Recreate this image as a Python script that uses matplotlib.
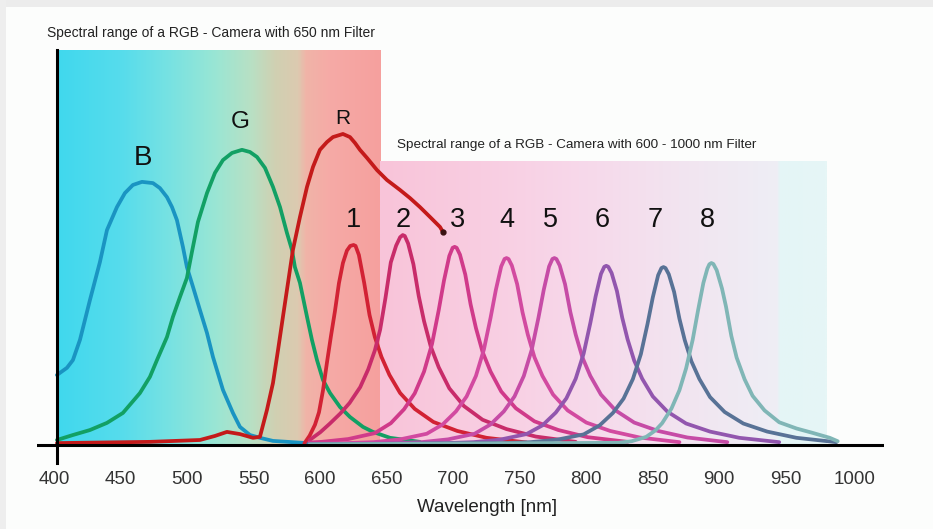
import numpy as np
import matplotlib
matplotlib.use("Agg")
import matplotlib.pyplot as plt
from matplotlib.colors import LinearSegmentedColormap
from matplotlib.patches import Rectangle
from matplotlib.transforms import ScaledTranslation

# --- data (wavelength nm, relative response %) ---
wl_b = [400.0, 407.5, 412.0, 417.3, 424.8, 432.3, 437.6, 445.1, 451.1, 457.1, 463.9, 472.2, 477.4,
        482.7, 486.5, 490.2, 494.7, 497.7, 502.3, 507.5, 512.8, 517.3, 524.8, 532.3, 537.6, 545.1,
        552.6, 562.4, 588.0]
resp_b = [22.5, 24.8, 27.3, 33.8, 46.6, 58.8, 69.1, 76.5, 81.0, 83.6, 84.6, 84.2, 82.6,
          79.7, 76.5, 72.3, 63.7, 57.2, 50.8, 43.4, 36.0, 28.3, 17.7, 10.3, 5.8, 3.2,
          2.3, 1.3, 0.6]

wl_g = [400.0, 412.0, 424.8, 437.6, 449.6, 462.4, 469.9, 475.2, 482.7, 487.2, 492.5, 497.7, 501.5,
        506.0, 512.8, 518.8, 524.8, 531.6, 539.1, 545.1, 550.4, 556.4, 562.4, 567.7, 572.9, 576.7,
        578.9, 582.7, 588.0, 591.7, 595.5, 600.0, 605.3, 612.8, 620.3, 630.1, 637.6, 650.4, 672.9]
resp_g = [1.6, 3.2, 4.8, 7.1, 10.3, 16.7, 21.9, 27.3, 34.7, 41.2, 47.6, 53.7, 62.1,
          71.7, 81.0, 87.5, 91.6, 93.9, 94.9, 94.2, 92.6, 89.1, 83.0, 76.5, 68.2, 62.7,
          57.2, 52.1, 41.2, 33.8, 27.3, 20.9, 16.7, 12.2, 9.0, 5.8, 4.2, 2.3, 1.0]

wl_r = [400.0, 470.0, 507.5, 518.8, 527.8, 537.6, 547.4, 552.6, 557.9, 562.4, 566.2, 569.9, 573.7,
        577.4, 582.7, 588.0, 592.5, 597.7, 603.0, 607.5, 615.0, 620.3, 624.1, 627.8, 633.1, 640.6,
        648.1, 657.9, 665.4, 672.9, 680.5, 688.0, 690.2]
resp_r = [0.6, 1.0, 1.6, 2.9, 4.2, 3.5, 2.3, 2.6, 11.3, 19.9, 30.5, 41.2, 52.1,
          62.7, 73.3, 83.0, 89.4, 94.9, 97.4, 99.0, 100.0, 99.0, 97.1, 94.9, 92.3, 88.4,
          85.2, 82.0, 79.4, 76.5, 73.3, 70.1, 68.5]

wl_1 = [586, 590, 594, 597, 600, 603, 606, 609, 612, 615, 618, 620.5, 623, 624.5, 627, 631, 635,
        639, 644, 650, 658, 669, 683, 701, 723, 753]
resp_1 = [0.5, 3.0, 6.5, 10.5, 17.5, 26.5, 35.0, 43.0, 52.0, 58.5, 62.5, 64.0, 64.3, 64.0, 61.1,
          52.1, 41.8, 34.7, 28.3, 22.5, 16.7, 11.6, 7.4, 4.5, 2.3, 0.8]

wl_2 = [590, 598, 605, 613, 620, 628, 634, 639, 643, 647, 651, 655, 658, 660, 661.5, 664, 668,
        672, 676, 681, 687, 695, 706, 720, 738, 760, 790]
resp_2 = [1.6, 4.1, 6.8, 10.1, 13.5, 18.6, 24.3, 30.4, 37.1, 47.3, 58.7, 64.1, 66.8, 67.5, 67.2,
          64.8, 58.1, 47.9, 39.8, 31.7, 25.0, 18.2, 12.5, 8.1, 5.1, 2.7, 1.0]

wl_3 = [590, 599, 619, 639, 651, 661, 669, 676, 682, 687, 691, 695, 697.5, 699, 700.5, 703, 707,
        711, 715, 720, 726, 734, 745, 759, 777, 799, 829]
resp_3 = [0.8, 1.0, 1.9, 3.8, 7.0, 11.5, 16.6, 23.6, 32.5, 43.3, 52.9, 60.8, 63.4, 63.7, 63.4,
          61.2, 54.8, 45.2, 37.6, 29.9, 23.6, 17.2, 11.8, 7.6, 4.8, 2.5, 1.0]

wl_4 = [590, 618, 638, 658, 678, 690, 700, 708, 715, 721, 726, 730, 734, 736.5, 738, 739.5, 742,
        746, 750, 754, 759, 765, 773, 784, 798, 816, 838, 868]
resp_4 = [0.3, 0.6, 0.9, 1.8, 3.6, 6.6, 10.8, 15.6, 22.2, 30.7, 40.9, 49.9, 57.4, 59.8, 60.1,
          59.8, 57.7, 51.7, 42.7, 35.5, 28.2, 22.2, 16.2, 11.1, 7.2, 4.5, 2.4, 0.9]

wl_5 = [590, 654, 674, 694, 714, 726, 736, 744, 751, 757, 762, 766, 770, 772.5, 774, 775.5, 778,
        782, 786, 790, 795, 801, 809, 820, 834, 852, 874, 904]
resp_5 = [0.2, 0.6, 0.9, 1.8, 3.6, 6.6, 10.8, 15.6, 22.2, 30.7, 40.9, 49.9, 57.4, 59.8, 60.1,
          59.8, 57.7, 51.7, 42.7, 35.5, 28.2, 22.2, 16.2, 11.1, 7.2, 4.5, 2.4, 0.9]

wl_6 = [590, 693, 713, 733, 753, 765, 775, 783, 790, 796, 801, 805, 809, 811.5, 813, 814.5, 817,
        821, 825, 829, 834, 840, 848, 859, 873, 891, 913, 943]
resp_6 = [0.2, 0.6, 0.9, 1.7, 3.5, 6.3, 10.4, 15.0, 21.3, 29.4, 39.2, 47.8, 55.0, 57.3, 57.6,
          57.3, 55.3, 49.5, 40.9, 34.0, 27.1, 21.3, 15.6, 10.7, 6.9, 4.3, 2.3, 0.9]

wl_7 = [590, 736, 756, 776, 796, 808, 818, 826, 833, 839, 844, 848, 852, 854.5, 856, 857.5, 860,
        864, 868, 872, 877, 883, 891, 902, 916, 934, 956, 986]
resp_7 = [0.2, 0.6, 0.9, 1.7, 3.4, 6.3, 10.3, 14.9, 21.2, 29.2, 38.9, 47.5, 54.6, 56.9, 57.2,
          56.9, 54.9, 49.2, 40.6, 33.7, 26.9, 21.2, 15.4, 10.6, 6.9, 4.3, 2.3, 0.9]

wl_8 = [590, 822, 832, 843, 850, 855, 862, 868, 873, 878, 882, 886, 889, 890.5, 892, 893.5, 896,
        900, 903, 907, 911, 917, 923, 932, 943, 956, 968, 981, 987]
resp_8 = [0.2, 0.7, 1.2, 2.6, 4.7, 7.0, 11.7, 17.6, 24.6, 33.9, 43.3, 52.1, 56.7, 58.1, 58.5,
          58.2, 56.2, 50.3, 44.5, 35.1, 28.1, 21.1, 15.8, 11.1, 7.3, 5.3, 3.9, 2.3, 1.2]

tick_vals = [400, 450, 500, 550, 600, 650, 700, 750, 800, 850, 900, 950, 1000]
rgb_names = ["B", "G", "R"]
band_names = ["1", "2", "3", "4", "5", "6", "7", "8"]

# --- styles / layout ---
W, H = 933, 529
X0, X1 = 385.0, 1021.8
Y0, Y1 = -5.8, 127.0

curves = [
    (wl_b, resp_b, "#1a94c2"),
    (wl_g, resp_g, "#12a064"),
    (wl_1, resp_1, "#d22234"),
    (wl_2, resp_2, "#c82c6a"),
    (wl_3, resp_3, "#d03a8a"),
    (wl_4, resp_4, "#d24aa0"),
    (wl_5, resp_5, "#c64ca6"),
    (wl_6, resp_6, "#9256ae"),
    (wl_7, resp_7, "#587296"),
    (wl_8, resp_8, "#80b6b6"),
    (wl_r, resp_r, "#c41a1a"),
]

left_stops = [(0.0, "#40d8ee"), (0.195, "#56dcec"), (0.35, "#78e2e2"), (0.49, "#9ae6d4"),
              (0.6, "#b8e0c4"), (0.675, "#d0d0b2"), (0.745, "#dccab0"), (0.77, "#f0b4a8"),
              (0.845, "#f6aaa6"), (1.0, "#f5a09e")]
right_stops = [(0.0, "#f8c4d9"), (0.224, "#f9cde1"), (0.447, "#f7d8ea"), (0.67, "#f2e4f0"),
               (0.892, "#eeeef5"), (0.896, "#e4f5f6"), (1.0, "#e6f6f6")]

plt.rcParams['font.family'] = ['Liberation Sans', 'DejaVu Sans']

fig = plt.figure(figsize=(W / 100, H / 100), dpi=100, facecolor="#fcfdfc")
fig.patches.append(Rectangle((0, 1 - 7 / H), 1, 7 / H, transform=fig.transFigure,
                             facecolor="#ececec", edgecolor="none", zorder=0))
fig.patches.append(Rectangle((0, 0), 6 / W, 1, transform=fig.transFigure,
                             facecolor="#eeeeee", edgecolor="none", zorder=0))

ax = fig.add_axes([37 / W, (H - 463) / H, (884 - 37) / W, (463 - 50) / H])
ax.set_xlim(X0, X1)
ax.set_ylim(Y0, Y1)
ax.patch.set_alpha(0)
for s in ax.spines.values():
    s.set_visible(False)
ax.set_yticks([])

grad = np.linspace(0, 1, 600).reshape(1, -1)
cm_left = LinearSegmentedColormap.from_list("left", left_stops)
cm_right = LinearSegmentedColormap.from_list("right", right_stops)
ax.imshow(grad, cmap=cm_left, extent=[400, 643, 0, 127], aspect="auto", zorder=0)
ax.imshow(grad, cmap=cm_right, extent=[643, 979, 0, 91], aspect="auto", zorder=0)

for wl, resp, col in curves:
    ax.plot(wl, resp, color=col, lw=2.7, solid_capstyle="round", solid_joinstyle="round", zorder=2)
# small dark dot where the R curve stops
ax.plot(wl_r[-1], resp_r[-1], "o", ms=3.5, color="#3a1212", zorder=2)

ax.axhline(0, color="black", lw=2.2, zorder=3)
ax.plot([400, 400], [Y0, Y1], color="black", lw=2.2, zorder=3, clip_on=False)

ax.set_xticks(tick_vals)
ax.set_xticklabels([str(v) for v in tick_vals], fontsize=13.5, color="#333333")
ax.tick_params(axis="x", length=0, pad=5.7)
# labels in the source sit a few pixels left of their ticks (except the last)
shift = ScaledTranslation(-3 / 100, 0, fig.dpi_scale_trans)
for lab in ax.get_xticklabels()[:-1]:
    lab.set_transform(lab.get_transform() + shift)

# curve labels
rgb_pos = [(464.7, 92.3, 20), (537.6, 103.9, 17.5), (615.0, 105.1, 15)]
for name, (x, y, fs) in zip(rgb_names, rgb_pos):
    ax.text(x, y, name, fontsize=fs, ha="center", va="center", color="#111111", zorder=4)
band_x = [622.6, 660.2, 700.8, 738.3, 770.7, 809.8, 849.6, 888.7]
for name, x in zip(band_names, band_x):
    ax.text(x, 72.3, name, fontsize=19.5, ha="center", va="center", color="#111111", zorder=4)

fig.text(487 / W, 1 - 508 / H, "Wavelength [nm]", fontsize=13.5, ha="center", va="center",
         color="#222222")
fig.text(47 / W, 1 - 33 / H, "Spectral range of a RGB - Camera with 650 nm Filter",
         fontsize=10, ha="left", va="center", color="#222222")
fig.text(397 / W, 1 - 145 / H, "Spectral range of a RGB - Camera with 600 - 1000 nm Filter",
         fontsize=9.7, ha="left", va="center", color="#222222")

fig.savefig("out.png", dpi=100, facecolor=fig.get_facecolor())
